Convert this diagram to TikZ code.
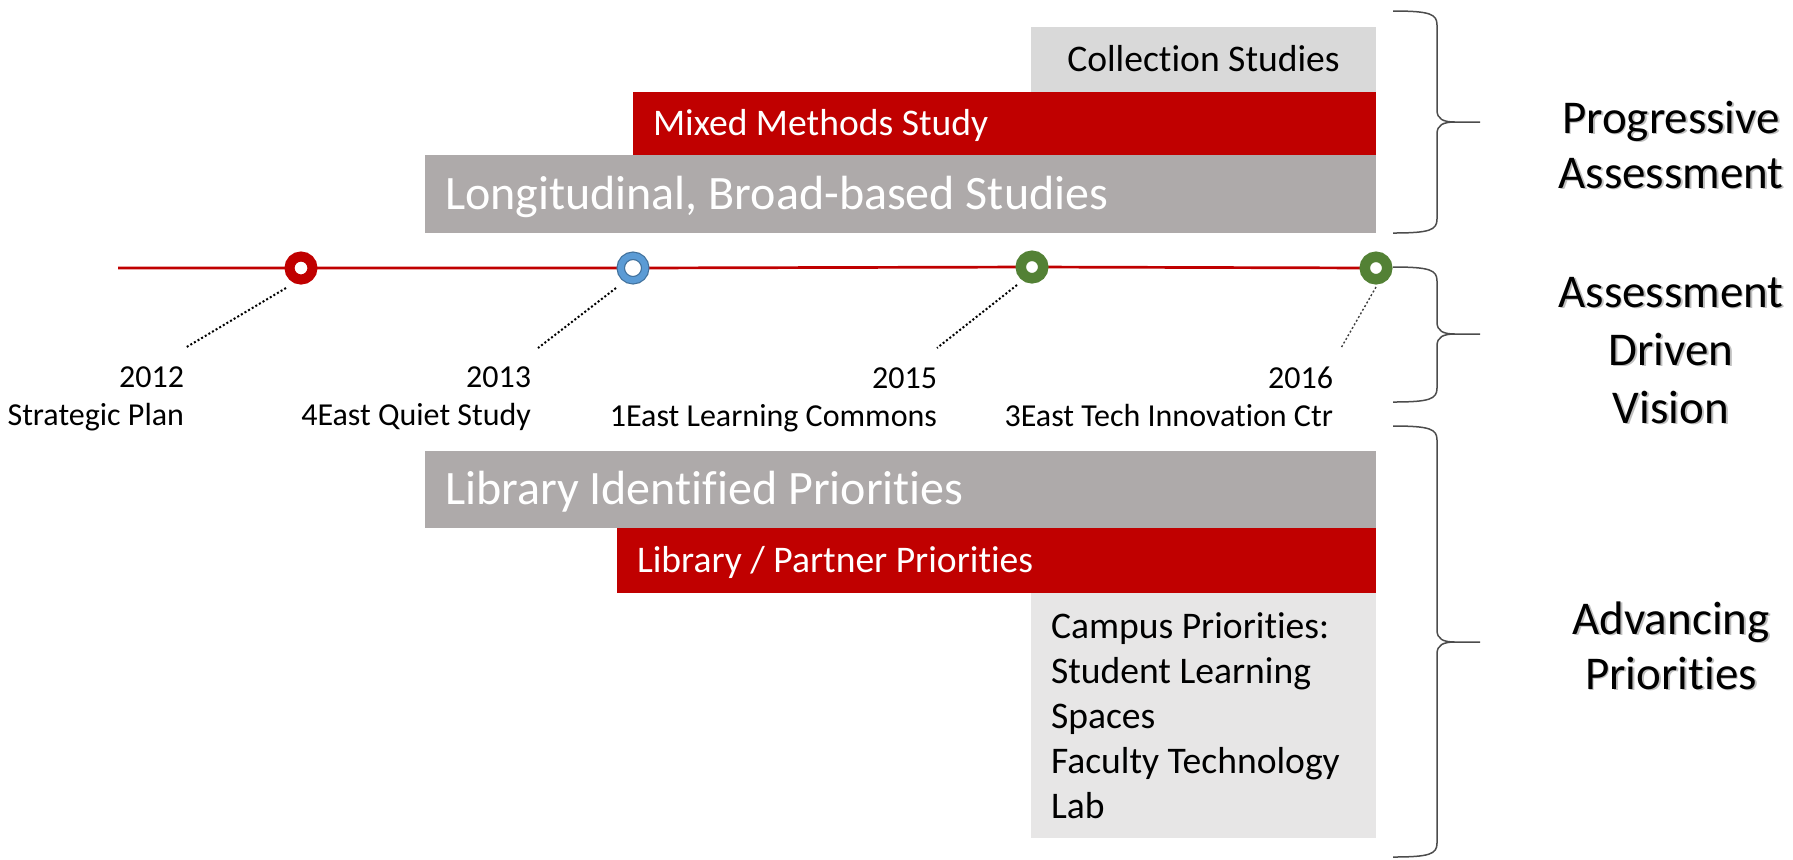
\documentclass[tikz,border=0pt]{standalone}
\usepackage{fontspec}
\setmainfont{Carlito}[Ligatures=NoCommon, Contextuals=NoAlternate]
\usetikzlibrary{backgrounds}
\definecolor{cred}{HTML}{C00000}
\definecolor{cgray}{HTML}{AEAAAA}
\definecolor{clight}{HTML}{D9D9D9}
\definecolor{ccampus}{HTML}{E7E6E6}
\definecolor{cblue}{HTML}{5B9BD5}
\definecolor{cblueedge}{HTML}{41719C}
\definecolor{cgreen}{HTML}{538135}
\newcommand\sidebrace[3]{\draw[brace] (1393,#1) .. controls (1430,#1) and (1437,#1+3) .. (1437,#1+14) -- (1437,#2-12) .. controls (1437,#2-3) and (1443,#2) .. (1455,#2) -- (1480,#2) (1455,#2) .. controls (1443,#2) and (1437,#2+3) .. (1437,#2+12) -- (1437,#3-14) .. controls (1437,#3-3) and (1430,#3) .. (1393,#3);}
\newcommand\sidelabel[4]{\node[sideshadow] (#1sh) at (#2,#3) {#4}; \node[sidetxt] (#1) at (#2,#3) {#4};}
\begin{document}
\begin{tikzpicture}[x=0.5pt,y=-0.5pt,
 every node/.style={inner sep=0pt, outer sep=0pt},
 bar/.style={anchor=north west, inner xsep=10pt, inner ysep=0pt, align=flush left},
 bigtxt/.style={font=\fontsize{24}{28.8}\selectfont, text height=15.4pt, text depth=0pt},
 midtxt/.style={font=\fontsize{18.8}{22.5}\selectfont, text height=12.1pt, text depth=0pt},
 camptxt/.style={font=\fontsize{18.8}{22.5}\selectfont},
 yrtxt/.style={font=\fontsize{16}{19}\selectfont, anchor=base east},
 sidetxt/.style={font=\fontsize{23.5}{28}\selectfont, anchor=base},
 sideshadow/.style={sidetxt, text=black!25, xshift=0.9pt, yshift=-0.9pt},
 redring/.style={circle, draw=cred, line width=5pt, fill=white, minimum size=11.5pt},
 greenring/.style={circle, draw=cgreen, line width=5.25pt, fill=white, minimum size=11.25pt},
 bluering/.style={circle, draw=cblueedge, double=cblue, line width=0.6pt, double distance=3.05pt, fill=white, minimum size=12.25pt},
 tline/.style={cred, line width=1.35pt},
 dotline/.style={line width=1pt, dash pattern=on 1pt off 1.1pt},
 brace/.style={black!70, line width=0.75pt},
]
\useasboundingbox (0,0) rectangle (1793,859);

% upper bars
\node[bar, midtxt, fill=clight, text=black, text width=152.5pt, minimum height=32.5pt, align=flush center] (coll) at (1031,27) {Collection Studies};
\node[bar, midtxt, fill=cred, text=white, text width=351.5pt, minimum height=31.5pt] (mixed) at (633,92) {Mixed Methods Study};
\node[bar, bigtxt, fill=cgray, text=white, text width=455.5pt, minimum height=39pt] (longi) at (425,155) {Longitudinal, Broad-based Studies};

% lower bars
\node[bar, bigtxt, fill=cgray, text=white, text width=455.5pt, minimum height=38.5pt] (libid) at (425,451) {Library Identified Priorities};
\node[bar, midtxt, fill=cred, text=white, text width=359.5pt, minimum height=32.5pt] (partner) at (617,528) {Library / Partner Priorities};
\node[bar, camptxt, fill=ccampus, text=black, text width=152.5pt, minimum height=122.5pt] (campus) at (1031,593) {Campus Priorities:\\Student Learning\\Spaces\\Faculty Technology\\Lab};

% timeline
\node[redring] (c2012) at (301,268) {};
\node[bluering] (c2013) at (633,268) {};
\node[greenring] (c2015) at (1032,267) {};
\node[greenring] (c2016) at (1376,268) {};
\coordinate (tl0) at (118,268);
\begin{pgfonlayer}{background}
\draw[tline] (tl0) -- (c2012.center) -- (c2013.center) -- (c2015.center) -- (c2016.center);
\end{pgfonlayer}

% dotted leaders
\coordinate (t2012) at (286,288); \coordinate (b2012) at (185,348);
\coordinate (t2013) at (616,288); \coordinate (b2013) at (538,348);
\coordinate (t2015) at (1017,285); \coordinate (b2015) at (937,348);
\coordinate (t2016) at (1376,287); \coordinate (b2016) at (1341,348);
\draw[dotline] (t2012) -- (b2012);
\draw[dotline] (t2013) -- (b2013);
\draw[dotline] (t2015) -- (b2015);
\draw[dotline, line width=0.7pt, black!75] (t2016) -- (b2016);

% timeline labels
\node[yrtxt] (y2012) at (184,387) {2012};
\node[yrtxt] (n2012) at (184,425) {Strategic Plan};
\node[yrtxt] (y2013) at (531,387) {2013};
\node[yrtxt] (n2013) at (531,425) {4East Quiet Study};
\node[yrtxt] (y2015) at (937,388) {2015};
\node[yrtxt] (n2015) at (937,426) {1East Learning Commons};
\node[yrtxt] (y2016) at (1333,388) {2016};
\node[yrtxt] (n2016) at (1333,426) {3East Tech Innovation Ctr};

% braces
\sidebrace{11}{122}{233}
\sidebrace{267}{334}{402}
\sidebrace{426}{642}{857}

% side labels
\sidelabel{pa1}{1671}{133}{Progressive}
\sidelabel{pa2}{1671}{188}{Assessment}
\sidelabel{adv1}{1671}{307}{Assessment}
\sidelabel{adv2}{1671}{365}{Driven}
\sidelabel{adv3}{1671}{423}{Vision}
\sidelabel{ap1}{1671}{634}{Advancing}
\sidelabel{ap2}{1671}{689}{Priorities}
\end{tikzpicture}
\end{document}
